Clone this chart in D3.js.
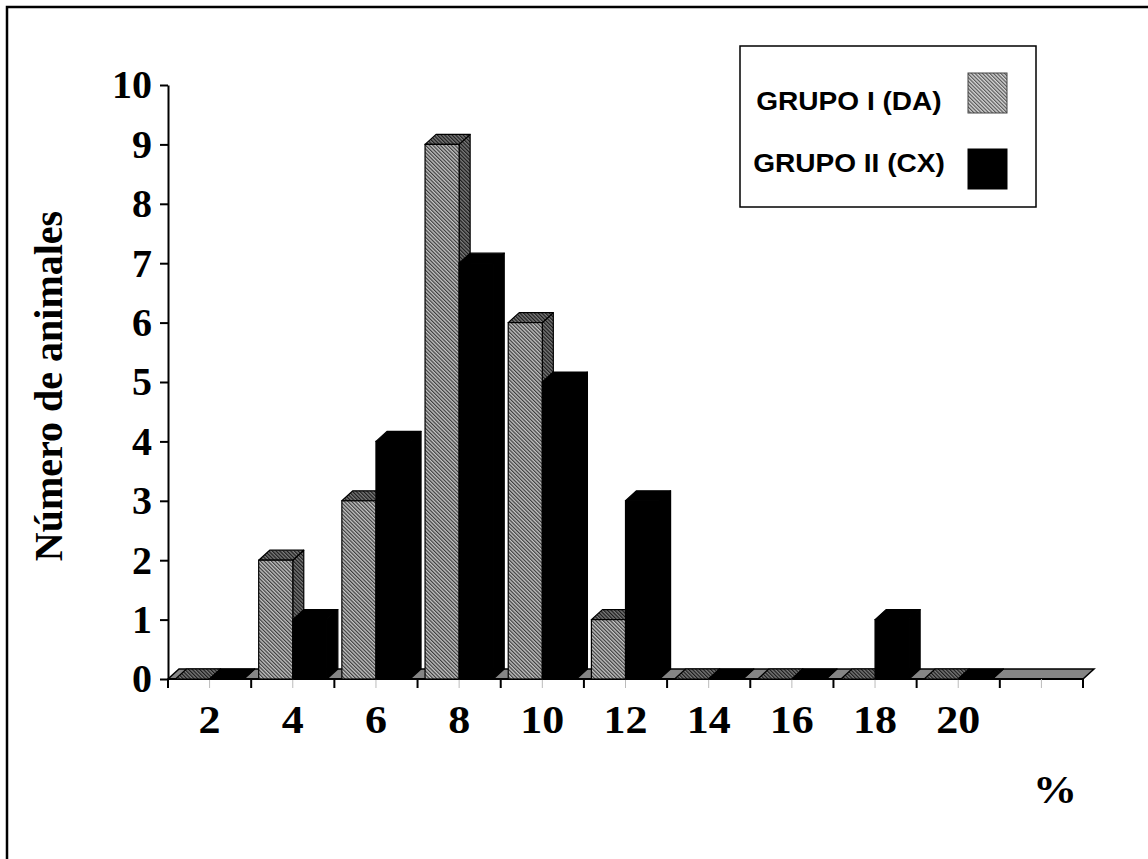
<!DOCTYPE html>
<html>
<head>
<meta charset="utf-8">
<script src="https://cdn.jsdelivr.net/npm/d3@7/dist/d3.min.js"></script>
<style>
	html, body { margin: 0; padding: 0; background: #fff; }
	svg { display: block; }
	.tickTxt { font-family: "Liberation Serif", "Times New Roman", serif; font-weight: bold; font-size: 40px; }
	.legendTxt { font-family: "Liberation Sans", Arial, sans-serif; font-weight: bold; font-size: 25.5px; }
</style>
</head>
<body>
<div id="chartDiv"></div>
<script>

// Data:
var categories = ["2", "4", "6", "8", "10", "12", "14", "16", "18", "20", ""];
var grupoI     = [0, 2, 3, 9, 6, 1, 0, 0, 0, 0, null];
var grupoII    = [0, 1, 4, 7, 5, 3, 0, 0, 1, 0, null];
var seriesKeys = ["GRUPO I (DA)", "GRUPO II (CX)"];
var yTicks     = [0, 1, 2, 3, 4, 5, 6, 7, 8, 9, 10];

var BarChart3d = function(width, height) {

	var svg = null;

	// Constants
	var PLOT_LEFT   = 168;
	var PLOT_RIGHT  = 1083;
	var PLOT_TOP    = 85;
	var PLOT_BOTTOM = 679;
	// 3D depth offset of the back face:
	var DX = 11;
	var DY = -10;
	// Horizontal stretch of the original text:
	var TXT_STRETCH = 1.1;

	var xScale = d3.scaleBand()
		.domain(d3.range(categories.length))
		.range([PLOT_LEFT, PLOT_RIGHT]);

	var innerScale = d3.scaleBand()
		.domain(seriesKeys)
		.range([0, xScale.bandwidth()])
		.paddingInner(0)
		.paddingOuter(0.22);

	var yScale = d3.scaleLinear()
		.domain([0, 10])
		.range([PLOT_BOTTOM, PLOT_TOP]);

	/*---------------------------
	| constructor
	-----------------*/

	var constructor = function() {

		svg = d3.select("#chartDiv").append("svg")
			.attr("width", width)
			.attr("height", height);

		makePatterns();

		// Outer frame; only top and left edges are inside the picture:
		svg.append("rect")
			.attr("x", 7)
			.attr("y", 7)
			.attr("width", width + 20)
			.attr("height", height + 20)
			.attr("fill", "white")
			.attr("stroke", "black")
			.attr("stroke-width", 2.5);

		drawFloor();
		drawAxes();
		drawBars();
		drawLegend();

		return {};
	}

	/*---------------------------
	| makePatterns
	-----------------*/

	var makePatterns = function() {
		var defs = svg.append("defs");

		var addHatch = function(id, bg, fg) {
			var p = defs.append("pattern")
				.attr("id", id)
				.attr("patternUnits", "userSpaceOnUse")
				.attr("width", 2.6)
				.attr("height", 2.6)
				.attr("patternTransform", "rotate(-45)");
			p.append("rect")
				.attr("width", 2.6).attr("height", 2.6)
				.attr("fill", bg);
			p.append("rect")
				.attr("width", 1.2).attr("height", 2.6)
				.attr("fill", fg);
		}
		addHatch("hatchFront", "#c4c4c4", "#3c3c3c");
		addHatch("hatchDark", "#7a7a7a", "#1a1a1a");
		addHatch("hatchLegend", "#d8d8d8", "#555");
	}

	/*---------------------------
	| drawFloor
	-----------------*/

	var drawFloor = function() {
		var x0 = xScale.range()[0];
		var x1 = xScale.range()[1];
		var y0 = yScale(0);
		svg.append("path")
			.attr("d", `M${x0},${y0} L${x1},${y0} L${x1 + DX},${y0 + DY} L${x0 + DX},${y0 + DY} Z`)
			.attr("fill", "#858585")
			.attr("stroke", "black")
			.attr("stroke-width", 1.5);
	}

	/*---------------------------
	| drawAxes
	-----------------*/

	var drawAxes = function() {

		// Y axis (ticks to the left):
		var yAxis = d3.axisLeft(yScale)
			.tickValues(yTicks)
			.tickSize(8)
			.tickSizeOuter(0)
			.tickPadding(8);
		var yg = svg.append("g")
			.attr("transform", `translate(${PLOT_LEFT},0)`)
			.call(yAxis);
		yg.select(".domain").attr("stroke-width", 2);
		yg.selectAll(".tick line").attr("stroke-width", 2);
		yg.selectAll(".tick text")
			.attr("class", "tickTxt")
			.attr("font-family", null)
			.attr("font-size", null)
			.attr("fill", "black");

		// X axis: ticks on band boundaries, labels centred in bands:
		var y0 = yScale(0);
		var xg = svg.append("g");
		xg.append("line")
			.attr("x1", PLOT_LEFT)
			.attr("x2", PLOT_RIGHT)
			.attr("y1", y0)
			.attr("y2", y0)
			.attr("stroke", "black")
			.attr("stroke-width", 2);

		var bounds = xScale.domain().map(function(i) { return xScale(i); });
		bounds.push(PLOT_RIGHT);
		xg.selectAll(".xTick")
			.data(bounds)
			.join("line")
			  .attr("class", "xTick")
			  .attr("x1", function(d) { return d; })
			  .attr("x2", function(d) { return d; })
			  .attr("y1", y0)
			  .attr("y2", y0 + 9)
			  .attr("stroke", "black")
			  .attr("stroke-width", 2);

		// Faint minor ticks in the middle of each band:
		xg.selectAll(".xMinor")
			.data(xScale.domain())
			.join("line")
			  .attr("class", "xMinor")
			  .attr("x1", function(i) { return xScale(i) + xScale.bandwidth() / 2; })
			  .attr("x2", function(i) { return xScale(i) + xScale.bandwidth() / 2; })
			  .attr("y1", y0)
			  .attr("y2", y0 + 9)
			  .attr("stroke", "#bbb")
			  .attr("stroke-width", 1);

		xg.selectAll(".xLbl")
			.data(xScale.domain())
			.join("text")
			  .attr("class", "tickTxt xLbl")
			  .attr("text-anchor", "middle")
			  .attr("transform", function(i) {
				  return `translate(${xScale(i) + xScale.bandwidth() / 2},733) scale(${TXT_STRETCH},1)`;
			  })
			  .text(function(i) { return categories[i]; });

		// Axis titles:
		svg.append("text")
			.attr("class", "tickTxt")
			.attr("text-anchor", "middle")
			.attr("transform", "translate(62,386) rotate(-90)")
			.text("Número de animales");

		svg.append("text")
			.attr("class", "tickTxt")
			.attr("text-anchor", "middle")
			.attr("transform", `translate(1055,803) scale(${TXT_STRETCH},1)`)
			.text("%");
	}

	/*---------------------------
	| drawBars
	-----------------*/

	var drawBars = function() {
		var barsG = svg.append("g");
		var w = innerScale.bandwidth();

		categories.forEach(function(cat, i) {
			[grupoI[i], grupoII[i]].forEach(function(val, s) {
				if (val === null) return;
				var key  = seriesKeys[s];
				var x    = xScale(i) + innerScale(key);
				var yTop = yScale(val);
				var yBot = yScale(0);
				var front = s === 0 ? "url(#hatchFront)" : "black";
				var dark  = s === 0 ? "url(#hatchDark)" : "black";
				var g = barsG.append("g").attr("class", "bar");

				// Side face:
				g.append("path")
					.attr("d", `M${x + w},${yBot} L${x + w + DX},${yBot + DY} L${x + w + DX},${yTop + DY} L${x + w},${yTop} Z`)
					.attr("fill", dark)
					.attr("stroke", "black")
					.attr("stroke-width", 1.2)
					.attr("stroke-linejoin", "round");
				// Top face:
				g.append("path")
					.attr("d", `M${x},${yTop} L${x + DX},${yTop + DY} L${x + w + DX},${yTop + DY} L${x + w},${yTop} Z`)
					.attr("fill", dark)
					.attr("stroke", "black")
					.attr("stroke-width", 1.2)
					.attr("stroke-linejoin", "round");
				// Front face:
				if (val > 0) {
					g.append("rect")
						.attr("x", x)
						.attr("y", yTop)
						.attr("width", w)
						.attr("height", yBot - yTop)
						.attr("fill", front)
						.attr("stroke", "black")
						.attr("stroke-width", 1.2);
				}
			});
		});
	}

	/*---------------------------
	| drawLegend
	-----------------*/

	var drawLegend = function() {
		var lg = svg.append("g");
		lg.append("rect")
			.attr("x", 740)
			.attr("y", 46)
			.attr("width", 296)
			.attr("height", 161)
			.attr("fill", "white")
			.attr("stroke", "black")
			.attr("stroke-width", 1.5);

		var rowY  = [110, 172];
		var swY   = [73, 149];
		var fills = ["url(#hatchLegend)", "black"];

		seriesKeys.forEach(function(key, i) {
			lg.append("text")
				.attr("class", "legendTxt")
				.attr("text-anchor", "middle")
				.attr("transform", `translate(849,${rowY[i]}) scale(1.1,1)`)
				.text(key);
			lg.append("rect")
				.attr("x", 968)
				.attr("y", swY[i])
				.attr("width", 39)
				.attr("height", 40)
				.attr("fill", fills[i])
				.attr("stroke", i === 0 ? "#444" : "black")
				.attr("stroke-width", 1);
		});
	}

	return constructor();
}

var chart = BarChart3d(1148, 859);

</script>
</body>
</html>
